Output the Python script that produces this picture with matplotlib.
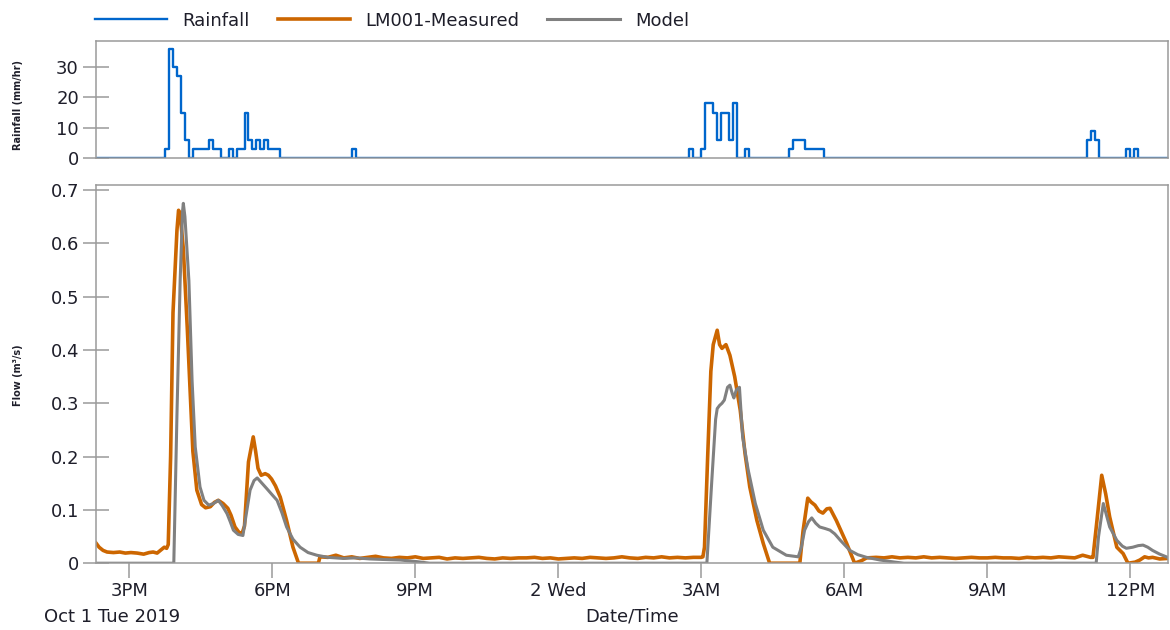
import matplotlib
matplotlib.use('Agg')
import matplotlib.pyplot as plt
import pandas as pd

plt.rcParams['font.family'] = ['DejaVu Sans']

# ---- rainfall (mm/hr), 5 minute values, keyed by block start ----
rain_blocks = {
    "10-01 15:45": [3, 36, 30, 27, 15, 6, 0, 3, 3, 3, 3, 6, 3, 3, 0, 0, 3, 0, 3, 3,
                    15, 6, 3, 6, 3, 6, 3, 3, 3],
    "10-01 19:40": [3],
    "10-02 02:45": [3, 0, 0, 3, 18, 18, 15, 6, 15, 15, 6, 18, 0, 0, 3],
    "10-02 04:50": [3, 6, 6, 6, 3, 3, 3, 3, 3],
    "10-02 11:05": [6, 9, 6],
    "10-02 11:55": [3, 0, 3],
}

# ---- LM001 measured flow (m3/s) ----
meas_a_t = ["10-01 14:18", "10-01 14:22", "10-01 14:27", "10-01 14:32", "10-01 14:40",
            "10-01 14:48", "10-01 14:55", "10-01 15:02", "10-01 15:10", "10-01 15:18",
            "10-01 15:25", "10-01 15:30", "10-01 15:35", "10-01 15:40", "10-01 15:44",
            "10-01 15:47", "10-01 15:49", "10-01 15:52", "10-01 15:55", "10-01 16:00",
            "10-01 16:02", "10-01 16:04", "10-01 16:08", "10-01 16:13", "10-01 16:17",
            "10-01 16:20", "10-01 16:25", "10-01 16:31", "10-01 16:36", "10-01 16:42",
            "10-01 16:47", "10-01 16:52", "10-01 16:58", "10-01 17:04", "10-01 17:08",
            "10-01 17:13", "10-01 17:18", "10-01 17:22", "10-01 17:25", "10-01 17:30",
            "10-01 17:36", "10-01 17:39", "10-01 17:42", "10-01 17:46", "10-01 17:51",
            "10-01 17:55", "10-01 17:59", "10-01 18:04", "10-01 18:10", "10-01 18:18",
            "10-01 18:26", "10-01 18:33", "10-01 18:58", "10-01 19:00"]
meas_a_v = [0.038, 0.030, 0.024, 0.021, 0.020,
            0.021, 0.019, 0.020, 0.019, 0.017,
            0.020, 0.021, 0.019, 0.025, 0.030,
            0.028, 0.035, 0.200, 0.470, 0.625,
            0.662, 0.655, 0.590, 0.440, 0.310,
            0.210, 0.137, 0.110, 0.104, 0.106,
            0.114, 0.118, 0.112, 0.103, 0.090,
            0.068, 0.058, 0.056, 0.070, 0.190,
            0.237, 0.210, 0.178, 0.165, 0.168,
            0.165, 0.158, 0.145, 0.124, 0.080,
            0.030, 0.000, 0.000, 0.012]
meas_base1_start = "10-01 19:10"   # every 10 min
meas_base1_v = [0.011, 0.015, 0.010, 0.012, 0.009, 0.011, 0.013, 0.010, 0.009, 0.011,
                0.010, 0.012, 0.009, 0.010, 0.011, 0.008, 0.010, 0.009, 0.010, 0.011,
                0.009, 0.008, 0.010, 0.009, 0.010, 0.010, 0.011, 0.009, 0.010, 0.008,
                0.009, 0.010, 0.009, 0.011, 0.010, 0.009, 0.010, 0.012, 0.010, 0.009,
                0.011, 0.010, 0.012, 0.010, 0.011, 0.010, 0.011]
meas_b_t = ["10-02 03:00", "10-02 03:02", "10-02 03:04", "10-02 03:08", "10-02 03:12",
            "10-02 03:15", "10-02 03:20", "10-02 03:23", "10-02 03:26", "10-02 03:31",
            "10-02 03:36", "10-02 03:42", "10-02 03:49", "10-02 03:55", "10-02 04:01",
            "10-02 04:10", "10-02 04:18", "10-02 04:26", "10-02 05:04", "10-02 05:08",
            "10-02 05:14", "10-02 05:18", "10-02 05:23", "10-02 05:28", "10-02 05:33",
            "10-02 05:38", "10-02 05:42", "10-02 05:50", "10-02 05:56", "10-02 06:03",
            "10-02 06:13", "10-02 06:22", "10-02 06:28"]
meas_b_v = [0.011, 0.012, 0.030, 0.200, 0.360,
            0.410, 0.437, 0.410, 0.403, 0.410,
            0.390, 0.350, 0.287, 0.206, 0.143,
            0.080, 0.037, 0.000, 0.000, 0.060,
            0.122, 0.115, 0.109, 0.098, 0.094,
            0.102, 0.103, 0.080, 0.060, 0.037,
            0.000, 0.005, 0.010]
meas_base2_start = "10-02 06:40"   # every 10 min
meas_base2_v = [0.011, 0.010, 0.012, 0.010, 0.011, 0.010, 0.012, 0.010, 0.011, 0.010,
                0.009, 0.010, 0.011, 0.010, 0.010, 0.011, 0.010, 0.010, 0.009, 0.011,
                0.010, 0.011, 0.010, 0.012, 0.011, 0.010, 0.015, 0.011]
meas_c_t = ["10-02 11:13", "10-02 11:18", "10-02 11:24", "10-02 11:29", "10-02 11:34",
            "10-02 11:43", "10-02 11:51", "10-02 11:57", "10-02 12:06", "10-02 12:12",
            "10-02 12:18", "10-02 12:23", "10-02 12:28", "10-02 12:37", "10-02 12:47"]
meas_c_v = [0.011, 0.080, 0.165, 0.130, 0.087,
            0.030, 0.018, 0.000, 0.002, 0.006,
            0.012, 0.010, 0.011, 0.008, 0.009]

# ---- model flow (m3/s) ----
model_t = ["10-01 14:18", "10-01 15:56", "10-01 16:00", "10-01 16:04", "10-01 16:07",
           "10-01 16:08", "10-01 16:10", "10-01 16:15", "10-01 16:19", "10-01 16:23",
           "10-01 16:29", "10-01 16:34", "10-01 16:40", "10-01 16:46", "10-01 16:52",
           "10-01 16:57", "10-01 17:03", "10-01 17:07", "10-01 17:11", "10-01 17:17",
           "10-01 17:23", "10-01 17:27", "10-01 17:32", "10-01 17:37", "10-01 17:41",
           "10-01 17:47", "10-01 17:53", "10-01 18:00", "10-01 18:06", "10-01 18:12",
           "10-01 18:18", "10-01 18:26", "10-01 18:35", "10-01 18:45", "10-01 18:56",
           "10-01 19:10", "10-01 19:29", "10-01 19:45", "10-01 20:03", "10-01 20:20",
           "10-01 20:41", "10-01 21:02", "10-01 21:18",
           "10-02 03:07", "10-02 03:13", "10-02 03:18", "10-02 03:20", "10-02 03:23",
           "10-02 03:26", "10-02 03:29", "10-02 03:33", "10-02 03:36", "10-02 03:39",
           "10-02 03:41", "10-02 03:44", "10-02 03:48", "10-02 03:52", "10-02 03:59",
           "10-02 04:08", "10-02 04:18", "10-02 04:30", "10-02 04:47", "10-02 05:02",
           "10-02 05:06", "10-02 05:10", "10-02 05:15", "10-02 05:19", "10-02 05:24",
           "10-02 05:29", "10-02 05:36", "10-02 05:42", "10-02 05:48", "10-02 05:55",
           "10-02 06:07", "10-02 06:17", "10-02 06:28", "10-02 06:45", "10-02 07:04",
           "10-02 07:15",
           "10-02 11:17", "10-02 11:20", "10-02 11:26", "10-02 11:30", "10-02 11:34",
           "10-02 11:43", "10-02 11:50", "10-02 11:55", "10-02 12:03", "10-02 12:10",
           "10-02 12:16", "10-02 12:22", "10-02 12:28", "10-02 12:37", "10-02 12:47"]
model_v = [0.000, 0.000, 0.280, 0.530, 0.660,
           0.675, 0.650, 0.530, 0.343, 0.218,
           0.143, 0.118, 0.109, 0.112, 0.118,
           0.108, 0.093, 0.078, 0.062, 0.054,
           0.052, 0.090, 0.137, 0.155, 0.160,
           0.150, 0.140, 0.128, 0.118, 0.095,
           0.068, 0.045, 0.030, 0.020, 0.015,
           0.011, 0.009, 0.010, 0.008, 0.007,
           0.006, 0.003, 0.000,
           0.000, 0.150, 0.270, 0.290, 0.296,
           0.300, 0.306, 0.330, 0.334, 0.318,
           0.310, 0.325, 0.330, 0.237, 0.175,
           0.112, 0.062, 0.030, 0.015, 0.012,
           0.030, 0.062, 0.078, 0.085, 0.075,
           0.068, 0.065, 0.062, 0.055, 0.043,
           0.024, 0.016, 0.011, 0.006, 0.002,
           0.000,
           0.000, 0.050, 0.112, 0.090, 0.068,
           0.043, 0.032, 0.028, 0.030, 0.033,
           0.034, 0.030, 0.024, 0.017, 0.011]

x_ticks = ["10-01 15:00", "10-01 18:00", "10-01 21:00", "10-02 00:00",
           "10-02 03:00", "10-02 06:00", "10-02 09:00", "10-02 12:00"]
x_labels = ["3PM", "6PM", "9PM", "2 Wed", "3AM", "6AM", "9AM", "12PM"]
flow_ticks = [0, 0.1, 0.2, 0.3, 0.4, 0.5, 0.6, 0.7]
flow_labels = ["0", "0.1", "0.2", "0.3", "0.4", "0.5", "0.6", "0.7"]
rain_ticks = [0, 10, 20, 30]


def ts(s):
    return pd.to_datetime("2019-" + pd.Series(s))


x_min = pd.Timestamp("2019-10-01 14:18")
x_max = pd.Timestamp("2019-10-02 12:47")

# build rainfall series on a 5 minute grid
rain = pd.Series(0.0, index=pd.date_range("2019-10-01 14:15", "2019-10-02 12:50", freq="5min"))
for start, vals in rain_blocks.items():
    idx = pd.date_range("2019-" + start, periods=len(vals), freq="5min")
    rain.loc[idx] = vals

# measured flow: events plus regular baseline pieces
meas = pd.concat([
    pd.Series(meas_a_v, index=ts(meas_a_t)),
    pd.Series(meas_base1_v, index=pd.date_range("2019-" + meas_base1_start, periods=len(meas_base1_v), freq="10min")),
    pd.Series(meas_b_v, index=ts(meas_b_t)),
    pd.Series(meas_base2_v, index=pd.date_range("2019-" + meas_base2_start, periods=len(meas_base2_v), freq="10min")),
    pd.Series(meas_c_v, index=ts(meas_c_t)),
]).sort_index()
model = pd.Series(model_v, index=ts(model_t))

BLUE = '#0066cc'
ORANGE = '#cc6600'
GREY = '#808080'
FRAME = '#9a9a9a'
TXT = '#1e1e2a'

fig = plt.figure(figsize=(11.7, 6.3), dpi=100)
ax_r = fig.add_axes([0.082, 0.749, 0.916, 0.186])
ax_f = fig.add_axes([0.082, 0.106, 0.916, 0.600], sharex=ax_r)

l_rain, = ax_r.plot(rain.index, rain.values, drawstyle='steps-post', color=BLUE, lw=1.7)
l_meas, = ax_f.plot(meas.index, meas.values, color=ORANGE, lw=2.6, solid_joinstyle='round')
l_mod, = ax_f.plot(model.index, model.values, color=GREY, lw=2.2, solid_joinstyle='round')

for ax in (ax_r, ax_f):
    for sp in ax.spines.values():
        sp.set_color(FRAME)
        sp.set_linewidth(1.1)
    ax.tick_params(axis='y', direction='inout', length=18.5, width=1.1, color=FRAME,
                   labelsize=13, labelcolor=TXT, pad=3)

ax_r.set_ylim(0, 38.6)
ax_r.set_yticks(rain_ticks)
ax_r.tick_params(axis='x', which='both', bottom=False, labelbottom=False)

ax_f.set_ylim(0, 0.709)
ax_f.set_yticks(flow_ticks)
ax_f.set_yticklabels(flow_labels)
ax_f.set_xlim(x_min, x_max)
ax_f.set_xticks(list(ts(x_ticks)))
ax_f.set_xticklabels(x_labels)
ax_f.tick_params(axis='x', direction='out', length=10.8, width=1.1, color=FRAME,
                 labelsize=13, labelcolor=TXT, pad=3)

fig.text(18 / 1170, 0.833, "Rainfall (mm/hr)", rotation=90, ha='center', va='center',
         fontsize=7, fontweight='bold', color=TXT)
fig.text(18 / 1170, 0.405, "Flow (m³/s)", rotation=90, ha='center', va='center',
         fontsize=7, fontweight='bold', color=TXT)
fig.text(112 / 1170, 0.021, "Oct 1 Tue 2019", ha='center', va='center', fontsize=13, color=TXT)
fig.text(632 / 1170, 0.021, "Date/Time", ha='center', va='center', fontsize=13, color=TXT)

fig.legend([l_rain, l_meas, l_mod], ["Rainfall", "LM001-Measured", "Model"],
           loc='center left', bbox_to_anchor=(95 / 1170, 0.967), ncol=3, frameon=False,
           borderpad=0, borderaxespad=0, handlelength=4.0, handletextpad=0.85,
           columnspacing=1.55, fontsize=13, labelcolor=TXT)

fig.savefig("out.png", dpi=100, facecolor='white')
